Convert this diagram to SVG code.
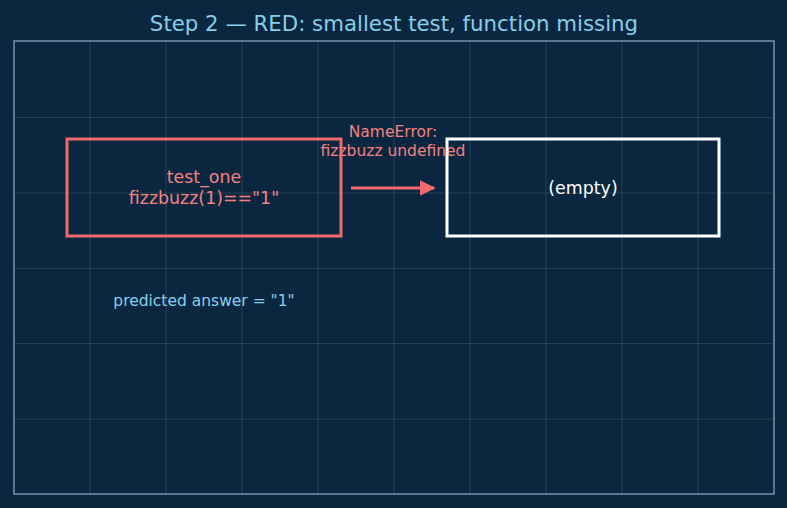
<svg xmlns="http://www.w3.org/2000/svg" width="787" height="508" viewBox="0 0 787 508">
<defs>
<style>
text{font-family:"DejaVu Sans","Liberation Sans",sans-serif;text-anchor:middle}
.grid{stroke:#ffffff;stroke-opacity:0.14;stroke-width:0.8}
.red{fill:none;stroke:#f26b6b;stroke-width:3}
.white{fill:none;stroke:#ffffff;stroke-width:3}
.rt{fill:#f58080}
</style>
<marker id="ah" viewBox="0 0 10 10" refX="9" refY="5" markerWidth="5.3" markerHeight="5.3" markerUnits="strokeWidth" orient="auto">
<path d="M0,0 L10,5 L0,10 z" fill="#f26b6b"/>
</marker>
</defs>
<rect width="787" height="508" fill="#0b2740"/>
<g id="grid">
<path class="grid" d="M90,41V494M166,41V494M242,41V494M318,41V494M394,41V494M470,41V494M546,41V494M622,41V494M698,41V494M14,117.5H774M14,193H774M14,268.5H774M14,343.5H774M14,419H774"/>
<rect x="14" y="41" width="760" height="453" fill="none" stroke="#6f8ca6" stroke-width="1.6"/>
</g>
<text x="394" y="30.5" font-size="21.3" fill="#87ceeb">Step 2 — RED: smallest test, function missing</text>
<g id="connectors">
<line x1="351" y1="188" x2="434" y2="188" stroke="#f26b6b" stroke-width="3" marker-end="url(#ah)"/>
<text class="rt" x="393" y="136.5" font-size="15.5">NameError:</text>
<text class="rt" x="393" y="155.5" font-size="15.5">fizzbuzz undefined</text>
</g>
<g id="test_one">
<rect class="red" x="67" y="139" width="274" height="97"/>
<text class="rt" x="204" y="183" font-size="17.4">test_one</text>
<text class="rt" x="204" y="204" font-size="17.4">fizzbuzz(1)=="1"</text>
</g>
<g id="empty">
<rect class="white" x="447" y="139" width="272" height="97"/>
<text x="583" y="194" font-size="17.4" fill="#ffffff">(empty)</text>
</g>
<g id="predicted">
<text x="204" y="305.5" font-size="15.5" fill="#87ceeb">predicted answer = "1"</text>
</g>
</svg>
